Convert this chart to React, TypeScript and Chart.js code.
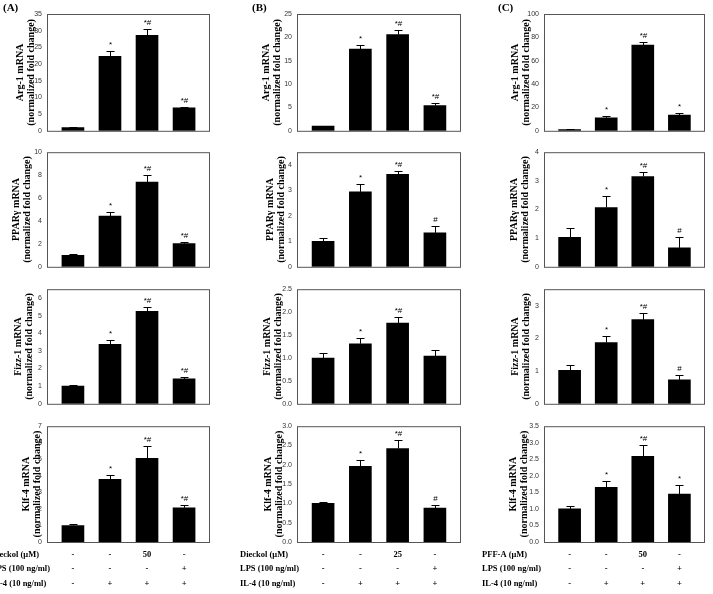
import React, { useEffect, useRef } from 'react';
import { Chart, registerables } from 'chart.js';
Chart.register(...registerables);

// ---------- DATA ----------
const groups = ['Control', 'IL-4', 'Compound + IL-4', 'LPS + IL-4'];

// Column A
const argA = [1.0, 22.3, 28.6, 6.9];
const argAErr = [0.2, 1.5, 1.9, 0.2];
const argASig = ['', '*', '*#', '*#'];
const pparA = [1.0, 4.43, 7.39, 2.02];
const pparAErr = [0.14, 0.34, 0.6, 0.18];
const pparASig = ['', '*', '*#', '*#'];
const fizzA = [1.0, 3.37, 5.24, 1.41];
const fizzAErr = [0.05, 0.26, 0.24, 0.11];
const fizzASig = ['', '*', '*#', '*#'];
const klfA = [1.0, 3.79, 5.06, 2.07];
const klfAErr = [0.1, 0.23, 0.74, 0.16];
const klfASig = ['', '*', '*#', '*#'];

// Column B
const argB = [1.0, 17.5, 20.6, 5.4];
const argBErr = [0.1, 0.8, 0.9, 0.6];
const argBSig = ['', '*', '*#', '*#'];
const pparB = [1.0, 2.94, 3.63, 1.33];
const pparBErr = [0.14, 0.3, 0.14, 0.27];
const pparBSig = ['', '*', '*#', '#'];
const fizzB = [1.0, 1.31, 1.76, 1.04];
const fizzBErr = [0.1, 0.12, 0.13, 0.13];
const fizzBSig = ['', '*', '*#', ''];
const klfB = [1.0, 1.96, 2.42, 0.88];
const klfBErr = [0.04, 0.16, 0.23, 0.08];
const klfBSig = ['', '*', '*#', '#'];

// Column C
const argC = [1.0, 11.1, 73.3, 13.4];
const argCErr = [0.3, 1.7, 2.8, 2.2];
const argCSig = ['', '*', '*#', '*'];
const pparC = [1.03, 2.07, 3.15, 0.66];
const pparCErr = [0.33, 0.39, 0.15, 0.38];
const pparCSig = ['', '*', '*#', '#'];
const fizzC = [1.02, 1.87, 2.57, 0.73];
const fizzCErr = [0.18, 0.21, 0.19, 0.15];
const fizzCSig = ['', '*', '*#', '#'];
const klfC = [1.0, 1.65, 2.59, 1.45];
const klfCErr = [0.1, 0.18, 0.34, 0.28];
const klfCSig = ['', '*', '*#', '*'];

// Tick labels
const ticks0to35 = [0, 5, 10, 15, 20, 25, 30, 35];
const ticks0to10 = [0, 2, 4, 6, 8, 10];
const ticks0to6 = [0, 1, 2, 3, 4, 5, 6];
const ticks0to7 = [0, 1, 2, 3, 4, 5, 6, 7];
const ticks0to25 = [0, 5, 10, 15, 20, 25];
const ticks0to4 = [0, 1, 2, 3, 4];
const ticks0to2p5 = [0, 0.5, 1.0, 1.5, 2.0, 2.5];
const ticks0to3p0 = [0, 0.5, 1.0, 1.5, 2.0, 2.5, 3.0];
const ticks0to100 = [0, 20, 40, 60, 80, 100];
const ticks0to3 = [0, 1, 2, 3];
const ticks0to3p5 = [0, 0.5, 1.0, 1.5, 2.0, 2.5, 3.0, 3.5];

// Axis titles
const geneTitles = ['Arg-1 mRNA', 'PPARγ mRNA', 'Fizz-1 mRNA', 'Klf-4 mRNA'];
const unitTitle = '(normalized fold change)';

// Condition table
const compoundLabels = ['Dieckol (μM)', 'Dieckol (μM)', 'PFF-A (μM)'];
const doseA = ['-', '-', '50', '-'];
const doseB = ['-', '-', '25', '-'];
const doseC = ['-', '-', '50', '-'];
const lpsLabel = 'LPS (100 ng/ml)';
const lpsRow = ['-', '-', '-', '+'];
const il4Label = 'IL-4 (10 ng/ml)';
const il4Row = ['-', '+', '+', '+'];
const panelLetters = ['(A)', '(B)', '(C)'];

type PanelData = { values: number[]; err: number[]; sig: string[]; ticks: number[]; max: number; dec: boolean };

const panels: PanelData[][] = [
  [
    { values: argA, err: argAErr, sig: argASig, ticks: ticks0to35, max: 35, dec: false },
    { values: pparA, err: pparAErr, sig: pparASig, ticks: ticks0to10, max: 10, dec: false },
    { values: fizzA, err: fizzAErr, sig: fizzASig, ticks: ticks0to6, max: 6.5, dec: false },
    { values: klfA, err: klfAErr, sig: klfASig, ticks: ticks0to7, max: 7, dec: false },
  ],
  [
    { values: argB, err: argBErr, sig: argBSig, ticks: ticks0to25, max: 25, dec: false },
    { values: pparB, err: pparBErr, sig: pparBSig, ticks: ticks0to4, max: 4.5, dec: false },
    { values: fizzB, err: fizzBErr, sig: fizzBSig, ticks: ticks0to2p5, max: 2.5, dec: true },
    { values: klfB, err: klfBErr, sig: klfBSig, ticks: ticks0to3p0, max: 3.0, dec: true },
  ],
  [
    { values: argC, err: argCErr, sig: argCSig, ticks: ticks0to100, max: 100, dec: false },
    { values: pparC, err: pparCErr, sig: pparCSig, ticks: ticks0to4, max: 4, dec: false },
    { values: fizzC, err: fizzCErr, sig: fizzCSig, ticks: ticks0to3, max: 3.5, dec: false },
    { values: klfC, err: klfCErr, sig: klfCSig, ticks: ticks0to3p5, max: 3.5, dec: true },
  ],
];
const doses = [doseA, doseB, doseC];

// ---------- LAYOUT ----------
const COLS = [
  { canvasLeft: 0, boxLeft: 47, boxRight: 210, labelX: -9, letterX: 3 },
  { canvasLeft: 240, boxLeft: 297, boxRight: 461, labelX: 240, letterX: 252 },
  { canvasLeft: 480, boxLeft: 544, boxRight: 705, labelX: 482, letterX: 498 },
];
const ROW_TOP = [14, 151, 288, 425];
const ROW_BOTTOM = [132, 268, 405, 542];
const TITLE_X = [
  [20, 16, 18, 26],
  [266, 270, 267, 268],
  [515, 514, 515, 513],
];
const TABLE_Y = [555, 569, 584];
const TITLE_LH = 11.5;

function Panel({ col, row }: { col: number; row: number }) {
  const ref = useRef<HTMLCanvasElement>(null);
  const c = COLS[col];
  const top = ROW_TOP[row];
  const bottom = ROW_BOTTOM[row];
  const padTop = row === 0 ? top : 8;
  const canvasTop = top - padTop;
  const canvasH = row === 3 ? 594 - canvasTop : bottom - canvasTop + 8;
  const canvasW = c.boxRight + 3 - c.canvasLeft;

  useEffect(() => {
    const p = panels[col][row];
    const canvas = ref.current!;
    const annot = {
      id: 'annot',
      afterDatasetsDraw(chart: any) {
        const { ctx, chartArea: a, scales } = chart;
        const x = scales.x, y = scales.y;
        ctx.save();
        ctx.strokeStyle = '#000';
        ctx.lineWidth = 1;
        ctx.fillStyle = '#000';
        ctx.font = '8px "Liberation Sans", Arial, sans-serif';
        ctx.textAlign = 'center';
        ctx.textBaseline = 'middle';
        p.values.forEach((v, i) => {
          const px = Math.round(x.getPixelForValue(i)) + 0.5;
          const y0 = y.getPixelForValue(v);
          const y1 = Math.round(y.getPixelForValue(v + p.err[i])) + 0.5;
          ctx.beginPath();
          ctx.moveTo(px, y0);
          ctx.lineTo(px, y1);
          ctx.moveTo(px - 4, y1);
          ctx.lineTo(px + 4, y1);
          ctx.stroke();
          if (p.sig[i]) ctx.fillText(p.sig[i], px, y1 - 7);
        });
        ctx.strokeStyle = '#555';
        ctx.strokeRect(a.left + 0.5, a.top + 0.5, a.right - a.left - 1, a.bottom - a.top);
        if (row === 3) {
          ctx.fillStyle = '#000';
          ctx.font = 'bold 8.5px "Liberation Serif", "Times New Roman", serif';
          const rows = [
            { label: compoundLabels[col], vals: doses[col] },
            { label: lpsLabel, vals: lpsRow },
            { label: il4Label, vals: il4Row },
          ];
          rows.forEach((r, k) => {
            const ty = TABLE_Y[k] - canvasTop;
            ctx.textAlign = 'left';
            ctx.fillText(r.label, c.labelX - c.canvasLeft, ty);
            ctx.textAlign = 'center';
            r.vals.forEach((s, i) => ctx.fillText(s, x.getPixelForValue(i), ty));
          });
        }
        ctx.restore();
      },
    };
    const chart = new Chart(canvas, {
      type: 'bar',
      data: {
        labels: groups,
        datasets: [
          {
            data: p.values.map((v, i) => ({ x: i, y: v })) as any,
            backgroundColor: '#000',
            borderWidth: 0,
            barThickness: 22,
          },
        ],
      },
      options: {
        animation: false,
        responsive: false,
        events: [],
        layout: {
          padding: { top: padTop, bottom: canvasH - padTop - (bottom - top), left: 0, right: canvasW - (c.boxRight - c.canvasLeft) },
        },
        plugins: { legend: { display: false }, tooltip: { enabled: false } },
        scales: {
          x: { type: 'linear', min: -0.7, max: 3.7, offset: false, display: false },
          y: {
            min: 0,
            max: p.max,
            afterFit: (axis: any) => {
              axis.width = c.boxLeft - c.canvasLeft;
            },
            afterBuildTicks: (axis: any) => {
              axis.ticks = p.ticks.map((v) => ({ value: v }));
            },
            grid: { display: false, drawTicks: false },
            border: { display: false },
            ticks: {
              padding: 5,
              color: '#333',
              font: { family: '"Liberation Sans", Arial, sans-serif', size: 7 },
              callback: (v: any) => (p.dec ? Number(v).toFixed(1) : String(v)),
            },
            title: {
              display: true,
              text: [geneTitles[row], unitTitle],
              color: '#000',
              font: { family: '"Liberation Serif", "Times New Roman", serif', weight: 'bold', size: 10, lineHeight: TITLE_LH / 10 },
              padding: { top: TITLE_X[col][row] - c.canvasLeft - TITLE_LH / 2, bottom: 0 },
            },
          },
        },
      },
      plugins: [annot],
    } as any);
    return () => chart.destroy();
  }, [col, row]);

  return (
    <canvas
      ref={ref}
      width={canvasW}
      height={canvasH}
      style={{ position: 'absolute', left: c.canvasLeft, top: canvasTop, width: canvasW, height: canvasH }}
    />
  );
}

export default function App() {
  const cells: JSX.Element[] = [];
  for (let col = 0; col < 3; col++) for (let row = 0; row < 4; row++) cells.push(<Panel key={`${col}-${row}`} col={col} row={row} />);
  return (
    <div style={{ position: 'absolute', left: 0, top: 0, width: 713, height: 594, background: '#fff', overflow: 'hidden' }}>
      {panelLetters.map((t, i) => (
        <div
          key={t}
          style={{
            position: 'absolute',
            left: COLS[i].letterX,
            top: 1,
            font: 'bold 11px "Liberation Serif", "Times New Roman", serif',
            color: '#000',
            zIndex: 2,
          }}
        >
          {t}
        </div>
      ))}
      {cells}
    </div>
  );
}
